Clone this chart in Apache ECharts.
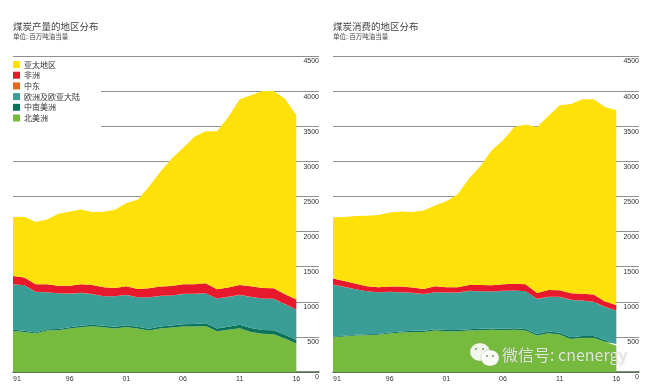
<!DOCTYPE html>
<html><head><meta charset="utf-8">
<style>html,body{margin:0;padding:0;background:#fff}#c{width:655px;height:388px}</style>
<script src="https://cdn.jsdelivr.net/npm/echarts@6/dist/echarts.min.js"></script>
</head><body><div id="c"></div>
<script>
const years = ['1991','1992','1993','1994','1995','1996','1997','1998','1999','2000','2001','2002','2003','2004','2005','2006','2007','2008','2009','2010','2011','2012','2013','2014','2015','2016','2017','2018'];
const regionNames = ['北美洲','中南美洲','欧洲及欧亚大陆','中东','非洲','亚太地区'];
const legendOrder = ['亚太地区','非洲','中东','欧洲及欧亚大陆','中南美洲','北美洲'];
const regionColors = ['#76BB3E','#0B7359','#3A9E96','#E06A1B','#E8192C','#FFE10A'];
const titles = ['煤炭产量的地区分布','煤炭消费的地区分布'];
const unitLabel = '单位: 百万吨油当量';

const prodNorthAmerica = [585,571,547,590,595,619,638,652,638,619,642,619,590,619,633,647,647,656,581,600,623,571,543,538,476,405];
const prodSouthAmerica = [15,15,15,18,18,20,22,22,22,25,25,25,25,28,30,32,35,38,40,45,50,55,55,55,55,50];
const prodEurasia = [649,649,578,527,508,477,466,433,418,434,430,420,449,436,425,433,430,427,424,424,424,443,447,447,434,434];
const prodMiddleEast = [2,2,2,2,2,2,2,2,2,2,2,2,2,2,2,2,2,2,2,2,2,2,2,2,2,2];
const prodAfrica = [116,107,107,112,107,112,121,131,126,117,122,117,126,131,135,135,135,140,131,131,141,150,150,150,140,140];
const prodAsiaPacific = [839,867,886,924,1024,1057,1066,1038,1076,1114,1185,1270,1448,1634,1815,1941,2101,2167,2252,2428,2645,2719,2803,2808,2783,2624];

const consNorthAmerica = [495,505,519,524,529,547,562,571,571,590,581,581,590,595,600,595,600,590,519,552,533,469,486,486,431,375];
const consSouthAmerica = [10,10,12,12,12,14,14,16,16,18,18,18,18,20,20,22,22,24,22,24,26,26,26,26,26,25];
const consEurasia = [739,696,647,613,594,579,559,539,520,527,531,531,546,534,525,537,537,535,499,493,510,531,505,486,470,475];
const consMiddleEast = [2,2,2,2,2,2,2,2,2,2,2,2,2,2,2,2,2,2,2,2,2,2,2,2,2,2];
const consAfrica = [84,83,78,70,69,74,79,74,74,84,74,74,84,89,88,93,97,98,84,98,93,93,97,102,74,78];
const consAsiaPacific = [872,910,963,1004,1029,1057,1071,1076,1118,1151,1224,1324,1516,1691,1924,2052,2232,2275,2364,2478,2635,2697,2768,2782,2772,2773];

const prod = [prodNorthAmerica,prodSouthAmerica,prodEurasia,prodMiddleEast,prodAfrica,prodAsiaPacific];
const cons = [consNorthAmerica,consSouthAmerica,consEurasia,consMiddleEast,consAfrica,consAsiaPacific];

const FONT = '"Liberation Sans","Noto Sans CJK SC",sans-serif';
const CJK = '"Noto Sans CJK SC",sans-serif';
const lefts = [13,333];

function mk(list, idx){
  return list.map((d,i)=>({
    name: regionNames[i], type:'line', stack:'s'+idx, xAxisIndex:idx, yAxisIndex:idx,
    data:d, symbol:'none', smooth:false, silent:true,
    lineStyle:{width:0}, itemStyle:{color:regionColors[i]},
    areaStyle:{color:regionColors[i],opacity:1}
  }));
}
const chart = echarts.init(document.getElementById('c'),null,{renderer:'canvas'});
chart.setOption({
  animation:false, backgroundColor:'#fff',
  title: [0,1].flatMap(i=>[
    {text:titles[i],left:lefts[i],top:21.5,padding:0,textStyle:{fontFamily:CJK,fontSize:9.5,fontWeight:'normal',color:'#444'}},
    {text:unitLabel,left:lefts[i],top:33,padding:0,textStyle:{fontFamily:CJK,fontSize:6.5,fontWeight:'normal',color:'#444'}}
  ]),
  legend:{data:legendOrder,orient:'vertical',left:13,top:60.5,padding:0,itemWidth:7,itemHeight:7,itemGap:2.7,icon:'rect',
    selectedMode:false,textStyle:{fontFamily:CJK,fontSize:8,color:'#333',padding:[0,0,0,-1],lineHeight:8}},
  grid:[0,1].map(i=>({left:lefts[i],top:56,width:306,height:316,containLabel:false})),
  xAxis:[0,1].map(i=>({gridIndex:i,type:'category',boundaryGap:false,data:years,
    axisLine:{lineStyle:{color:'#4a6a45',width:1.5}},axisTick:{show:false},
    axisLabel:{interval:0,margin:4,fontFamily:FONT,fontSize:7,color:'#333',alignMinLabel:'left',showMinLabel:true,
      formatter:v=>{const n=+v;return (n%5===1&&n<=2016)?v.slice(2):'';}}})),
  yAxis:[0,1].map(i=>({gridIndex:i,type:'value',position:'right',min:0,max:4500,interval:500,
    axisLine:{show:false},axisTick:{show:false},
    splitLine:{show:true,lineStyle:{color:'#909090',width:1}},
    axisLabel:{inside:true,margin:0,verticalAlign:'top',align:'right',padding:[2,0,0,0],fontFamily:FONT,fontSize:7,color:'#333',formatter:v=>String(v)}})),
  series:[...mk(prod,0),...mk(cons,1)],
  graphic:[
    {type:'rect',z:1,silent:true,shape:{x:10,y:85,width:91,height:45},style:{fill:'#fff'}},
    {type:'ellipse',z:100,silent:true,shape:{cx:480,cy:352,rx:10,ry:9},style:{fill:'rgba(255,255,255,.9)',stroke:'rgba(120,140,110,.5)',lineWidth:.5}},
    {type:'ellipse',z:101,silent:true,shape:{cx:490,cy:358,rx:9,ry:8},style:{fill:'rgba(255,255,255,.95)',stroke:'rgba(120,140,110,.5)',lineWidth:.5}},
    {type:'circle',z:102,silent:true,shape:{cx:476,cy:349,r:1},style:{fill:'#7a9a60'}},
    {type:'circle',z:102,silent:true,shape:{cx:483,cy:349,r:1},style:{fill:'#7a9a60'}},
    {type:'circle',z:102,silent:true,shape:{cx:487,cy:356,r:1},style:{fill:'#7a9a60'}},
    {type:'circle',z:102,silent:true,shape:{cx:493,cy:356,r:1},style:{fill:'#7a9a60'}},
    {type:'text',z:102,silent:true,style:{x:502,y:355,text:'微信号: cnenergy',verticalAlign:'middle',fontFamily:'"Noto Sans CJK SC","Liberation Sans",sans-serif',fontSize:16,fill:'rgba(240,245,235,.88)',textShadowColor:'rgba(90,90,90,.55)',textShadowBlur:1}}
  ]
});
</script></body></html>
